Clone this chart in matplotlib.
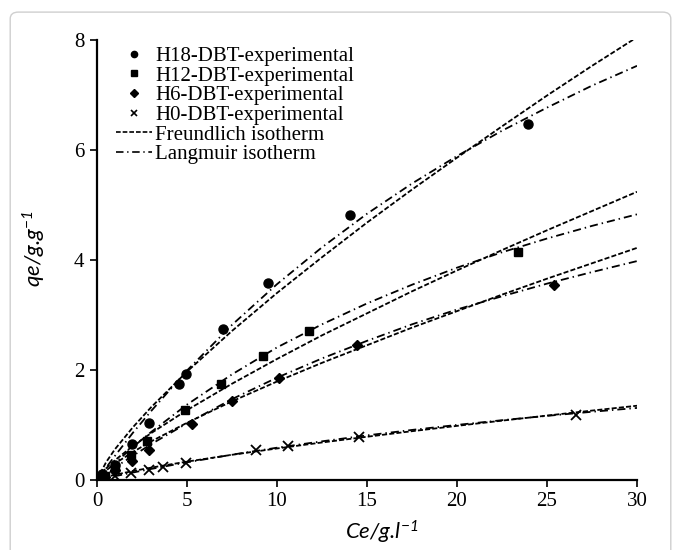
import matplotlib
matplotlib.use("Agg")
import matplotlib.pyplot as plt
from matplotlib.patches import FancyBboxPatch
from matplotlib.lines import Line2D

plt.rcParams['font.family'] = ['Liberation Serif', 'DejaVu Serif']
plt.rcParams['mathtext.fontset'] = 'custom'
plt.rcParams['mathtext.it'] = 'Lato:italic'
plt.rcParams['mathtext.rm'] = 'Lato:italic'

# experimental points (Ce, qe)
h18_ce = [0.3, 0.99, 1.95, 2.87, 4.53, 4.97, 7.0, 9.52, 14.06, 23.97]
h18_qe = [0.11, 0.27, 0.65, 1.04, 1.75, 1.92, 2.74, 3.59, 4.82, 6.47]
h12_ce = [0.43, 0.99, 1.88, 2.8, 4.87, 6.9, 9.24, 11.77, 23.4]
h12_qe = [0.08, 0.24, 0.45, 0.71, 1.27, 1.75, 2.25, 2.71, 4.15]
h6_ce = [0.43, 0.99, 1.95, 2.87, 5.28, 7.52, 10.1, 14.47, 25.37]
h6_qe = [0.06, 0.18, 0.35, 0.55, 1.02, 1.43, 1.85, 2.46, 3.55]
h0_ce = [0.24, 0.99, 1.88, 2.87, 3.69, 4.97, 8.85, 10.6, 14.56, 26.6]
h0_qe = [0.03, 0.08, 0.13, 0.19, 0.24, 0.31, 0.54, 0.61, 0.78, 1.19]

# isotherm curves
ce_fit = [0, 0.5, 1, 2, 3, 5, 7.5, 10, 12.5, 15, 17.5, 20, 22.5, 25, 27.5, 30]
h18_freund = [0, 0.32, 0.56, 0.96, 1.32, 1.97, 2.71, 3.40, 4.05, 4.68, 5.28, 5.86, 6.43, 6.99, 7.53, 8.05]
h18_lang = [0, 0.22, 0.44, 0.86, 1.25, 1.99, 2.82, 3.56, 4.23, 4.84, 5.39, 5.89, 6.35, 6.77, 7.17, 7.53]
h12_freund = [0, 0.21, 0.36, 0.62, 0.85, 1.27, 1.75, 2.20, 2.63, 3.03, 3.43, 3.81, 4.18, 4.54, 4.89, 5.24]
h12_lang = [0, 0.16, 0.31, 0.60, 0.87, 1.37, 1.92, 2.41, 2.83, 3.21, 3.55, 3.86, 4.14, 4.39, 4.62, 4.83]
h6_freund = [0, 0.17, 0.30, 0.51, 0.70, 1.04, 1.43, 1.79, 2.13, 2.45, 2.77, 3.07, 3.37, 3.66, 3.94, 4.22]
h6_lang = [0, 0.11, 0.23, 0.44, 0.65, 1.03, 1.47, 1.86, 2.21, 2.53, 2.83, 3.10, 3.34, 3.57, 3.78, 3.98]
h0_freund = [0, 0.055, 0.095, 0.163, 0.224, 0.334, 0.458, 0.573, 0.682, 0.786, 0.887, 0.984, 1.079, 1.171, 1.262, 1.35]
h0_lang = [0, 0.035, 0.069, 0.136, 0.200, 0.321, 0.460, 0.587, 0.703, 0.811, 0.910, 1.001, 1.087, 1.166, 1.240, 1.31]

labels = ['H18-DBT-experimental', 'H12-DBT-experimental',
          'H6-DBT-experimental', 'H0-DBT-experimental',
          'Freundlich isotherm', 'Langmuir isotherm']

freund_ls = (0, (2.8, 1.2))
lang_ls = (0, (4.5, 2.2, 0.8, 2.2))
lw = 1.3

fig = plt.figure(figsize=(6.81, 5.5), dpi=100)
ax = fig.add_axes([0.1424, 0.1273, 0.793, 0.80])

for f, l in [(h18_freund, h18_lang), (h12_freund, h12_lang),
             (h6_freund, h6_lang), (h0_freund, h0_lang)]:
    ax.plot(ce_fit, f, color='black', lw=lw, ls=freund_ls)
    ax.plot(ce_fit, l, color='black', lw=lw, ls=lang_ls)

ax.plot(h18_ce, h18_qe, 'o', color='black', ms=6.5, ls='none')
ax.plot(h12_ce, h12_qe, 's', color='black', ms=6, ls='none')
ax.plot(h6_ce, h6_qe, 'D', color='black', ms=5.5, ls='none')
ax.plot(h0_ce, h0_qe, 'x', color='black', ms=7, mew=1.3, ls='none')

ax.set_xlim(0, 30)
ax.set_ylim(0, 8)
ax.set_xticks([0, 5, 10, 15, 20, 25, 30])
ax.set_yticks([0, 2, 4, 6, 8])
for s in ['top', 'right']:
    ax.spines[s].set_visible(False)
for s in ['left', 'bottom']:
    ax.spines[s].set_linewidth(1.6)
ax.tick_params(direction='out', length=5, width=1.2, labelsize=15, pad=4)

ax.set_xlabel('Ce/g.l$^{-1}$', fontfamily='Lato', fontstyle='italic', fontsize=16)
ax.set_ylabel('qe/g.g$^{-1}$', fontfamily='Lato', fontstyle='italic', fontsize=16)
ax.xaxis.set_label_coords(0.528, -0.088)
ax.yaxis.set_label_coords(-0.09, 0.525)

handles = [
    Line2D([], [], marker='o', color='black', ls='none', ms=4.5),
    Line2D([], [], marker='s', color='black', ls='none', ms=4.2),
    Line2D([], [], marker='D', color='black', ls='none', ms=4),
    Line2D([], [], marker='x', color='black', ls='none', ms=5, mew=1.2),
    Line2D([], [], color='black', lw=1.2, ls=freund_ls),
    Line2D([], [], color='black', lw=1.2, ls=lang_ls),
]
ax.legend(handles, labels, loc='upper left', bbox_to_anchor=(0.035, 0.985),
          frameon=False, fontsize=15, handlelength=1.75, handletextpad=0.15,
          labelspacing=0.0, borderpad=0, borderaxespad=0)

frame = FancyBboxPatch((0.015, -0.05), 0.97, 1.028, transform=fig.transFigure,
                       boxstyle='round,pad=0,rounding_size=0.012',
                       fc='none', ec='#cfcfcf', lw=1.0)
fig.patches.append(frame)

fig.savefig('out.png', dpi=100)
